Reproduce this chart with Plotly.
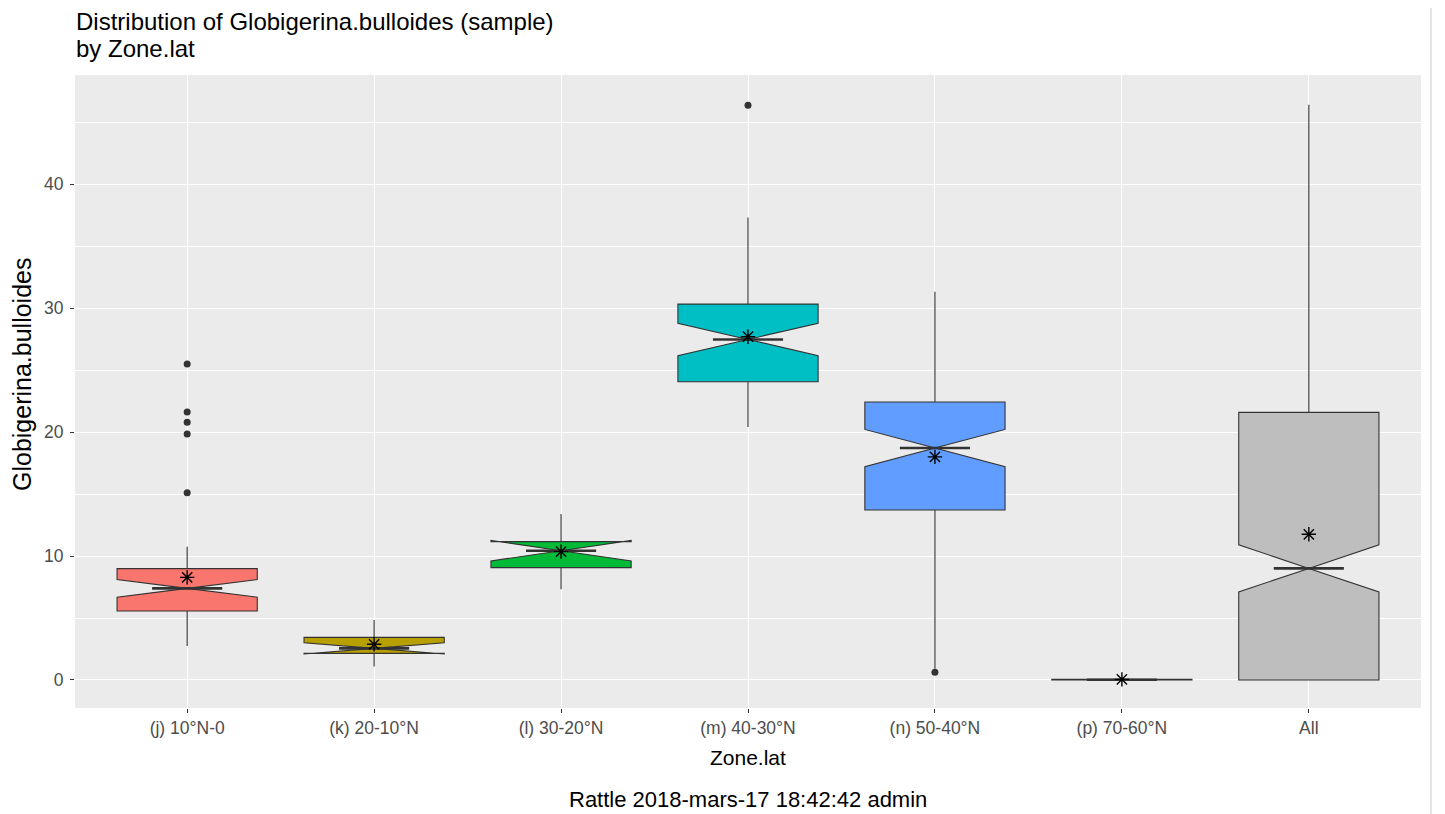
import plotly.graph_objects as go

categories = ["(j) 10°N-0", "(k) 20-10°N", "(l) 30-20°N", "(m) 40-30°N", "(n) 50-40°N", "(p) 70-60°N", "All"]
q1 = [5.56, 2.15, 9.06, 24.06, 13.71, 0.0, 0.0]
median = [7.39, 2.55, 10.43, 27.47, 18.71, 0.02, 9.0]
q3 = [8.98, 3.44, 11.16, 30.32, 22.42, 0.05, 21.59]
lowerfence = [2.74, 1.08, 7.31, 20.4, 0.9, 0.0, 0.0]
upperfence = [10.75, 4.84, 13.39, 37.31, 31.31, 0.1, 46.4]
notchspan = [0.71, 0.45, 0.83, 1.31, 1.5, 0.01, 1.9]
means = [8.28, 2.88, 10.35, 27.69, 18.0, 0.05, 11.75]
fills = ["#F8766D", "#B79F00", "#00BA38", "#00BFC4", "#619CFF", "#F564E3", "#BEBEBE"]
outlier_cat = [0, 0, 0, 0, 0, 3, 4]
outlier_val = [25.48, 21.61, 20.78, 19.84, 15.1, 46.37, 0.62]
y_ticks = [0, 10, 20, 30, 40]

BOX_W = 0.75
NOTCH_W = 0.5

fig = go.Figure()
pos = list(range(len(categories)))
for i, c in enumerate(categories):
    fig.add_trace(go.Box(
        x=[pos[i]], q1=[q1[i]], median=[median[i]], q3=[q3[i]],
        lowerfence=[lowerfence[i]], upperfence=[upperfence[i]],
        notchspan=[notchspan[i]], notched=True, notchwidth=NOTCH_W,
        width=BOX_W, whiskerwidth=0, fillcolor=fills[i],
        line=dict(color="#333333", width=1.1), boxpoints=False,
        showlegend=False, hoverinfo="skip", name=c,
    ))
    half = BOX_W * (1 - NOTCH_W) / 2
    fig.add_trace(go.Scatter(
        x=[pos[i] - half, pos[i] + half], y=[median[i], median[i]],
        mode="lines", line=dict(color="#333333", width=2.6),
        showlegend=False, hoverinfo="skip",
    ))

fig.add_trace(go.Scatter(
    x=[pos[k] for k in outlier_cat], y=outlier_val, mode="markers",
    marker=dict(color="#333333", size=7, symbol="circle"),
    showlegend=False, hoverinfo="skip",
))
fig.add_trace(go.Scatter(
    x=pos, y=means, mode="markers",
    marker=dict(symbol="asterisk-open", size=12, color="black",
                line=dict(color="black", width=1.4)),
    showlegend=False, hoverinfo="skip",
))

# page body has an 8px margin: figure coords = page coords - 8
W, H = 1437, 806
L, R, T, B = 67, 1437 - 1413, 67, 806 - 700
ph = H - T - B
pw = W - L - R


def px(page_x):
    return (page_x - 75) / pw


def py(page_y):
    return (708 - page_y) / ph


FONT = "Liberation Sans, Arial, sans-serif"

fig.update_layout(
    width=W, height=H,
    margin=dict(l=L, r=R, t=T, b=B, pad=0),
    paper_bgcolor="white", plot_bgcolor="#EBEBEB",
    font=dict(family=FONT, color="black"),
    boxmode="overlay",
    xaxis=dict(range=[-0.6, 6.6], tickmode="array", tickvals=pos, ticktext=categories,
               showgrid=True, gridcolor="white", gridwidth=1.4, zeroline=False,
               ticks="outside", ticklen=4, tickcolor="#333333", tickwidth=1,
               tickfont=dict(size=17.5, color="#4D4D4D"), showline=False),
    yaxis=dict(range=[-2.26, 48.8], tickmode="array", tickvals=y_ticks,
               showgrid=True, gridcolor="white", gridwidth=1.4, zeroline=False,
               ticks="outside", ticklen=4, tickcolor="#333333", tickwidth=1,
               ticklabelstandoff=3,
               tickfont=dict(size=17.5, color="#4D4D4D"), showline=False,
               minor=dict(dtick=5, tick0=0, showgrid=True, gridcolor="white", gridwidth=0.7)),
    annotations=[
        dict(text="Distribution of Globigerina.bulloides (sample)", xref="paper", yref="paper",
             x=px(74), y=py(21), xanchor="left", yanchor="middle", showarrow=False,
             font=dict(size=24, color="black")),
        dict(text="by Zone.lat", xref="paper", yref="paper",
             x=px(74), y=py(49), xanchor="left", yanchor="middle", showarrow=False,
             font=dict(size=24, color="black")),
        dict(text="Zone.lat", xref="paper", yref="paper", x=0.5, y=py(757),
             xanchor="center", yanchor="middle", showarrow=False, font=dict(size=21, color="black")),
        dict(text="Globigerina.bulloides", xref="paper", yref="paper", x=px(22),
             y=py(375), xanchor="center", yanchor="middle", textangle=-90, showarrow=False,
             font=dict(size=25, color="black")),
        dict(text="Rattle 2018-mars-17 18:42:42 admin", xref="paper", yref="paper", x=0.5,
             y=py(799), xanchor="center", yanchor="middle", showarrow=False,
             font=dict(size=22, color="black")),
    ],
    shapes=[dict(type="line", xref="paper", yref="paper",
                 x0=px(1431), x1=px(1431), y0=py(814), y1=py(8),
                 line=dict(color="#DDDDDD", width=1.5))],
)

fig.write_html("out.html")
